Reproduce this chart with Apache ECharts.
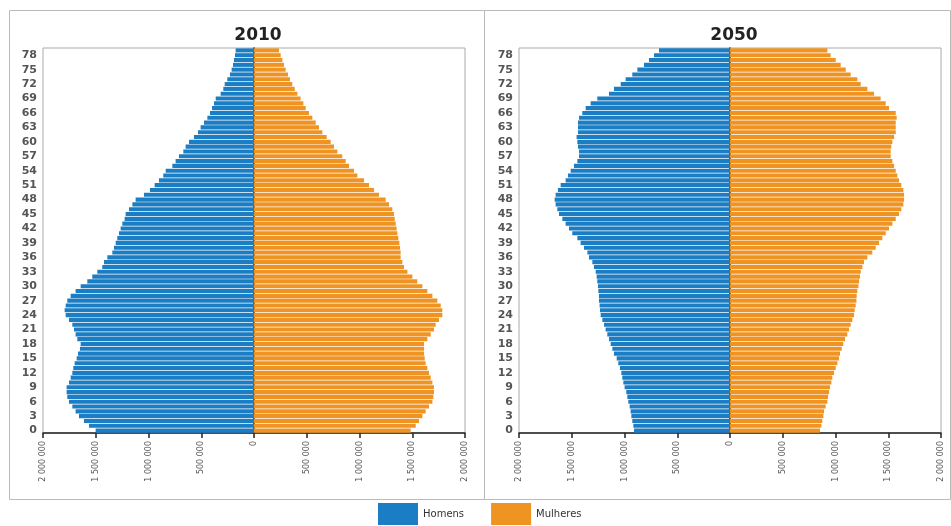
<!DOCTYPE html>
<html><head><meta charset="utf-8">
<script src="https://cdn.jsdelivr.net/npm/echarts@6/dist/echarts.min.js"></script>
<style>html,body{margin:0;padding:0;background:#fff}#c{width:951px;height:526px}</style>
</head><body><div id="c"></div>
<script>
// Ages 0..79
const ages = Array.from({length: 80}, (_, i) => String(i));
// Population in thousands (index = age)
const homens2010 = [1501,1564,1612,1659,1691,1722,1754,1770,1776,1776,1754,1738,1722,1713,1700,1681,1668,1650,1643,1675,1691,1706,1722,1754,1785,1795,1785,1770,1738,1691,1643,1580,1533,1485,1438,1422,1390,1343,1327,1311,1296,1280,1264,1248,1226,1217,1185,1153,1122,1043,986,942,901,860,837,774,743,711,670,648,616,569,531,506,474,442,417,398,379,363,316,291,278,253,228,212,199,190,180,174];
const mulheres2010 = [1485,1533,1564,1596,1627,1659,1691,1700,1706,1706,1691,1675,1659,1643,1627,1618,1612,1612,1612,1643,1675,1706,1722,1754,1785,1785,1770,1738,1691,1643,1596,1548,1501,1454,1422,1406,1390,1390,1384,1378,1368,1359,1352,1343,1334,1327,1311,1280,1248,1185,1138,1090,1043,980,948,901,869,837,790,758,727,689,648,616,585,553,521,490,468,442,411,386,363,341,322,300,284,269,253,237];
const homens2050 = [910,916,926,935,942,951,964,973,983,999,1011,1021,1030,1043,1059,1074,1100,1115,1131,1147,1163,1179,1194,1210,1226,1232,1236,1242,1242,1248,1251,1258,1264,1273,1289,1305,1337,1352,1384,1416,1447,1495,1526,1558,1589,1621,1637,1653,1662,1653,1631,1605,1558,1536,1510,1479,1447,1431,1431,1441,1447,1454,1441,1441,1441,1431,1400,1368,1321,1258,1147,1100,1036,989,926,878,815,768,720,673];
const mulheres2050 = [853,866,875,885,891,907,923,929,939,948,961,970,986,1002,1018,1033,1043,1059,1074,1090,1112,1128,1144,1160,1176,1182,1191,1198,1201,1207,1217,1223,1232,1239,1255,1270,1302,1349,1381,1413,1444,1476,1507,1539,1571,1602,1624,1643,1650,1650,1643,1624,1602,1586,1571,1555,1539,1523,1523,1529,1539,1555,1571,1571,1571,1580,1571,1507,1476,1428,1365,1302,1239,1207,1144,1097,1049,1002,954,923];
const titles = ['2010', '2050'];
const seriesNames = ['Homens', 'Mulheres'];

const BLUE = '#1b7dc4', ORANGE = '#ef9423';
const fmt = v => String(Math.abs(v)).replace(/\B(?=(\d{3})+(?!\d))/g, ' ');

const grids = [
  {left: 43, right: 486, top: 48, bottom: 93},
  {left: 519, right: 10, top: 48, bottom: 93}
];
const centers = [253, 729];

function xAxis(i) {
  return {
    type: 'value', gridIndex: i, min: -2000000, max: 2000000, interval: 500000,
    splitLine: {show: false},
    axisLine: {show: true, onZero: false, lineStyle: {color: '#222', width: 1.5}},
    axisTick: {show: true, length: 5, lineStyle: {color: '#222', width: 1.5}},
    axisLabel: {rotate: 90, fontSize: 8, color: '#555', margin: 8, formatter: fmt, fontFamily: 'DejaVu Sans'}
  };
}
function yAxis(i) {
  return {
    type: 'category', gridIndex: i, data: ages, boundaryGap: true,
    axisLine: {show: true, lineStyle: {color: '#222', width: 1.5}},
    axisTick: {show: true, interval: 0, length: 4, alignWithLabel: true, lineStyle: {color: '#333', width: 1}},
    axisLabel: {interval: 2, fontSize: 11, fontWeight: 'bold', color: '#555', margin: 6, fontFamily: 'DejaVu Sans'},
    splitLine: {show: false}
  };
}
function bars(i, hom, mul) {
  return [
    {name: seriesNames[0], type: 'bar', xAxisIndex: i, yAxisIndex: i, barGap: '-100%', barCategoryGap: '15%',
     itemStyle: {color: BLUE}, data: hom.map(v => -v * 1000), silent: true},
    {name: seriesNames[1], type: 'bar', xAxisIndex: i, yAxisIndex: i, barGap: '-100%', barCategoryGap: '15%',
     itemStyle: {color: ORANGE}, data: mul.map(v => v * 1000), silent: true}
  ];
}

const chart = echarts.init(document.getElementById('c'), null, {renderer: 'canvas'});
chart.setOption({
  animation: false,
  backgroundColor: '#fff',
  graphic: [
    {type: 'rect', shape: {x: 9.5, y: 10.5, width: 475, height: 489}, style: {fill: 'none', stroke: '#bbb', lineWidth: 1}, z: -1},
    {type: 'rect', shape: {x: 484.5, y: 10.5, width: 466, height: 489}, style: {fill: 'none', stroke: '#bbb', lineWidth: 1}, z: -1}
  ],
  title: titles.map((t, i) => ({
    text: t, left: centers[i], top: 22, textAlign: 'center',
    textStyle: {fontSize: 17, fontWeight: 'bold', color: '#222', fontFamily: 'DejaVu Sans'}
  })),
  legend: {
    data: seriesNames, left: 373, top: 498, itemWidth: 40, itemHeight: 22, itemGap: 27,
    icon: 'rect', textStyle: {fontSize: 10, color: '#333', fontFamily: 'DejaVu Sans'}, selectedMode: false
  },
  grid: grids.map(g => Object.assign({show: true, borderColor: '#aaa', borderWidth: 1, backgroundColor: 'transparent'}, g)),
  xAxis: [xAxis(0), xAxis(1)],
  yAxis: [yAxis(0), yAxis(1)],
  series: [...bars(0, homens2010, mulheres2010), ...bars(1, homens2050, mulheres2050)]
});
</script></body></html>
